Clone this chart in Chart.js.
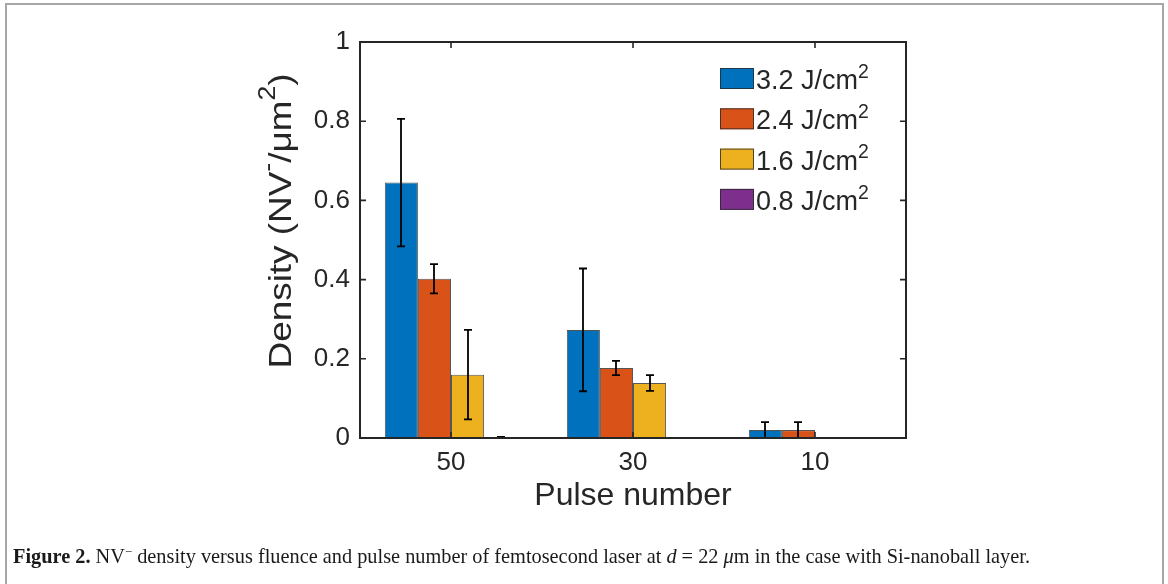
<!DOCTYPE html>
<html>
<head>
<meta charset="utf-8">
<script src="https://cdn.jsdelivr.net/npm/chart.js@4.4.1/dist/chart.umd.min.js"></script>
<style>
  html, body { margin: 0; padding: 0; background: #fff; }
  body { width: 1168px; height: 584px; position: relative; overflow: hidden; }
  #frame { position: absolute; left: 5px; top: 3px; width: 1159px; height: 620px;
           border: 2px solid #a6a6a6; box-sizing: border-box; }
  #wrap { position: absolute; left: 0; top: 0; width: 1168px; height: 584px; }
  #caption { position: absolute; left: 13px; top: 544px; white-space: nowrap;
             font-family: "Liberation Serif", "Times New Roman", serif; font-size: 21px;
             color: #1a1a1a; transform-origin: 0 0; }
  #caption sup { font-size: 13px; vertical-align: 7px; line-height: 0; }
</style>
</head>
<body>
<div id="frame"></div>
<div id="wrap"><canvas id="c" width="1168" height="584"></canvas></div>
<div id="caption"><b>Figure 2.</b> NV<sup>−</sup> density versus fluence and pulse number of femtosecond laser at <i>d</i> = 22 <i>μ</i>m in the case with Si-nanoball layer.</div>
<script>
// Pulse-number groups along the x axis
const pulseNumbers = ['50', '30', '10'];
// Laser fluence of each series
const fluenceLabels = ['3.2 J/cm²', '2.4 J/cm²', '1.6 J/cm²', '0.8 J/cm²'];
// NV- density (per µm²) for each fluence, one value per pulse number
const density32 = [0.645, 0.273, 0.020];
const density24 = [0.402, 0.177, 0.020];
const density16 = [0.160, 0.139, 0];
const density08 = [0.002, 0, 0];
// Half-length of the error bars
const error32 = [0.161, 0.155, 0.020];
const error24 = [0.037, 0.018, 0.020];
const error16 = [0.113, 0.020, 0];
const error08 = [0.001, 0, 0];
// Y axis tick values
const yTicks = [0, 0.2, 0.4, 0.6, 0.8, 1];

const seriesColors = ['#0072BD', '#D95319', '#EDB120', '#7E2F8E'];
const seriesValues = [density32, density24, density16, density08];
const seriesErrors = [error32, error24, error16, error08];

const TEXT = '#262626';
const SANS = '"Liberation Sans", Arial, Helvetica, sans-serif';

// Text with "²"/"⁻" drawn as real raised superscripts
function richParts(str) {
  const parts = [];
  for (const ch of str) {
    if (ch === '²') parts.push({ t: '2', sup: true });
    else if (ch === '⁻') parts.push({ t: '-', sup: true });
    else if (parts.length && !parts[parts.length - 1].sup) parts[parts.length - 1].t += ch;
    else parts.push({ t: ch, sup: false });
  }
  return parts;
}
function richWidth(ctx, parts, size) {
  let w = 0;
  for (const p of parts) {
    ctx.font = (p.sup ? size * 0.72 : size) + 'px ' + SANS;
    w += ctx.measureText(p.t).width;
  }
  return w;
}
function drawRich(ctx, parts, x, y, size) {
  for (const p of parts) {
    const s = p.sup ? size * 0.72 : size;
    ctx.font = s + 'px ' + SANS;
    ctx.fillText(p.t, x, p.sup ? y - size * 0.42 : y);
    x += ctx.measureText(p.t).width;
  }
}

// Vertical error bars with caps, centred on every bar
const errorBars = {
  id: 'errorBars',
  afterDatasetsDraw(chart) {
    const { ctx } = chart;
    const yScale = chart.scales.y;
    ctx.save();
    ctx.strokeStyle = '#000';
    ctx.lineWidth = 1.8;
    chart.data.datasets.forEach((ds, i) => {
      const meta = chart.getDatasetMeta(i);
      ds.data.forEach((v, j) => {
        const e = seriesErrors[i][j];
        if (!e) return;
        const bar = meta.data[j];
        const x = Math.round(bar.x);
        const yTop = yScale.getPixelForValue(v + e);
        const yBot = yScale.getPixelForValue(Math.max(v - e, 0));
        ctx.beginPath();
        ctx.moveTo(x, yTop); ctx.lineTo(x, yBot);
        ctx.moveTo(x - 4, yTop); ctx.lineTo(x + 4, yTop);
        ctx.moveTo(x - 4, yBot); ctx.lineTo(x + 4, yBot);
        ctx.stroke();
      });
    });
    ctx.restore();
  }
};

// Boxed axes with inward tick marks on all four sides
const axesBox = {
  id: 'axesBox',
  afterDatasetsDraw(chart) {
    const { ctx, chartArea: a } = chart;
    const { x, y } = chart.scales;
    ctx.save();
    ctx.strokeStyle = TEXT;
    ctx.lineWidth = 1.6;
    ctx.beginPath();
    yTicks.forEach(v => {
      const py = y.getPixelForValue(v);
      ctx.moveTo(a.left, py); ctx.lineTo(a.left + 6, py);
      ctx.moveTo(a.right, py); ctx.lineTo(a.right - 6, py);
    });
    pulseNumbers.forEach((_, i) => {
      const px = x.getPixelForValue(i);
      ctx.moveTo(px, a.top); ctx.lineTo(px, a.top + 6);
      ctx.moveTo(px, a.bottom); ctx.lineTo(px, a.bottom - 6);
    });
    ctx.stroke();
    ctx.lineWidth = 2;
    ctx.strokeRect(a.left, a.top, a.right - a.left, a.bottom - a.top);
    ctx.restore();
  }
};

// Legend inside the upper-right corner of the axes, plus the rotated y-axis label
const annotations = {
  id: 'annotations',
  afterDraw(chart) {
    const { ctx, chartArea: a } = chart;
    ctx.save();
    // legend
    const size = 27;
    const boxLeft = a.right - 186, boxW = 34, boxH = 21, rowGap = 40.3;
    chart.data.datasets.forEach((ds, i) => {
      const top = a.top + 26 + i * rowGap;
      ctx.fillStyle = ds.backgroundColor;
      ctx.fillRect(boxLeft, top, boxW, boxH);
      ctx.strokeStyle = 'rgba(40,40,40,0.8)';
      ctx.lineWidth = 1;
      ctx.strokeRect(boxLeft + 0.5, top + 0.5, boxW - 1, boxH - 1);
      ctx.fillStyle = TEXT;
      ctx.textBaseline = 'alphabetic';
      ctx.textAlign = 'left';
      drawRich(ctx, richParts(ds.label), boxLeft + boxW + 2, top + boxH, size);
    });
    // y-axis title, spread along its length
    const ySize = 32;
    const parts = richParts('Density (NV⁻/μm²)');
    const w = richWidth(ctx, parts, ySize);
    const k = 295 / w;
    ctx.translate(a.left - 78, 221);
    ctx.rotate(-Math.PI / 2);
    ctx.scale(k, 1);
    ctx.fillStyle = TEXT;
    ctx.textBaseline = 'middle';
    ctx.textAlign = 'left';
    drawRich(ctx, parts, -w / 2, 0, ySize);
    ctx.restore();
  }
};

new Chart(document.getElementById('c'), {
  type: 'bar',
  data: {
    labels: pulseNumbers,
    datasets: fluenceLabels.map((label, i) => ({
      label,
      data: seriesValues[i],
      backgroundColor: seriesColors[i],
      borderColor: 'rgba(30,30,30,0.75)',
      borderWidth: 1,
      borderSkipped: false,
      categoryPercentage: 4 / 5.5,
      barPercentage: 1
    }))
  },
  options: {
    responsive: false,
    animation: false,
    layout: { padding: { left: 250, right: 262, top: 42, bottom: 56 } },
    plugins: { legend: { display: false }, tooltip: { enabled: false } },
    scales: {
      x: {
        grid: { display: false, drawTicks: false },
        border: { display: false },
        ticks: { color: TEXT, padding: 9, font: { family: SANS, size: 26 } },
        title: { display: true, text: 'Pulse number', color: TEXT,
                 font: { family: SANS, size: 32 }, padding: { top: 0, bottom: 13 } },
        afterFit(scale) { scale.height = 90; }
      },
      y: {
        min: 0, max: 1,
        grid: { display: false, drawTicks: false },
        border: { display: false },
        afterBuildTicks(scale) { scale.ticks = yTicks.map(v => ({ value: v })); },
        ticks: { color: TEXT, padding: 10, font: { family: SANS, size: 26 },
                 callback: v => String(v) },
        afterFit(scale) { scale.width = 110; }
      }
    }
  },
  plugins: [errorBars, axesBox, annotations]
});

// Fit the caption to its line width
const cap = document.getElementById('caption');
const capW = cap.getBoundingClientRect().width;
cap.style.transform = 'scaleX(' + (1017 / capW) + ')';
</script>
</body>
</html>
